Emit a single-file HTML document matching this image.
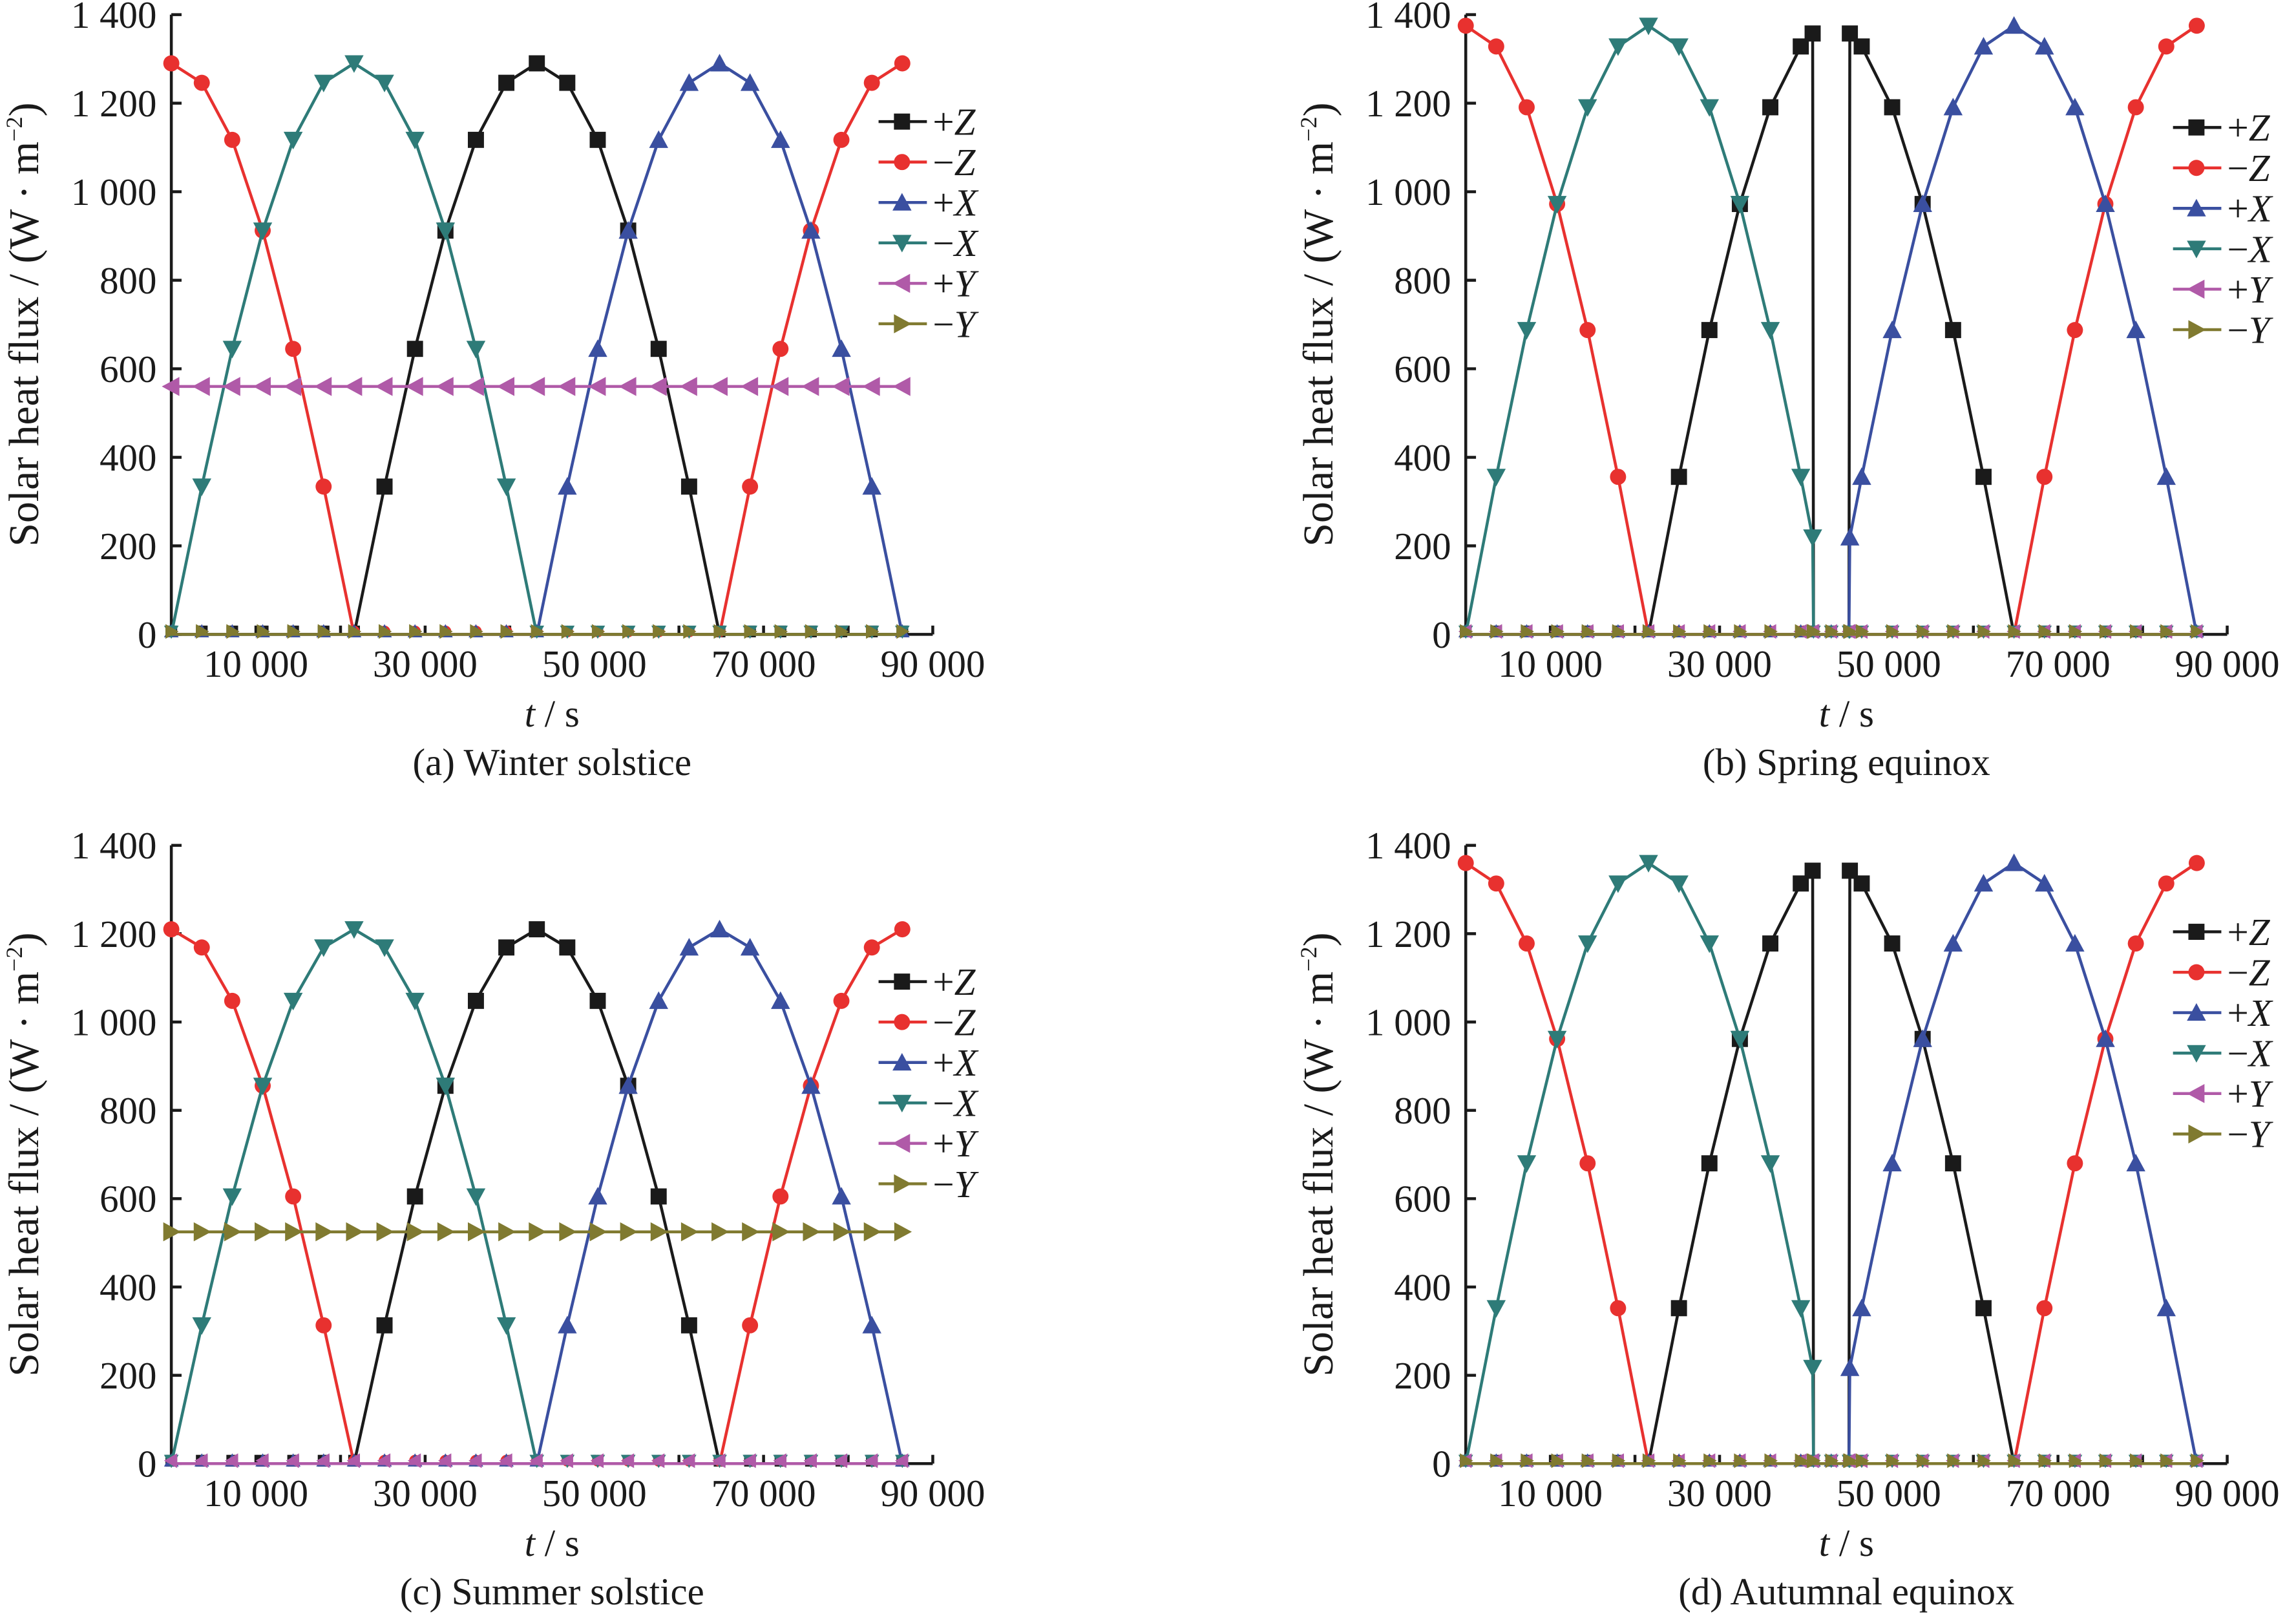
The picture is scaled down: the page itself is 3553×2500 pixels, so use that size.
<!DOCTYPE html>
<html><head><meta charset="utf-8"><style>
html,body{margin:0;padding:0;background:#fff}
svg{display:block}
text{font-family:"Liberation Serif",serif;fill:#1a1a1a}
</style></head><body>
<svg id="s" xmlns="http://www.w3.org/2000/svg" width="3553" height="2500" viewBox="0 0 1568 1103" preserveAspectRatio="none"></svg>
<script>
const S=document.getElementById('s');let h='';
const C={pz:'#1a1a1a',mz:'#e8312f',px:'#3a4fa0',mx:'#2e7b78',py:'#b05aa8',my:'#807a30'};
function mk(type,x,y,c,r){r=r||5.5;
 if(type=='pz')return `<rect x="${x-r}" y="${y-r}" width="${2*r}" height="${2*r}" fill="${c}"/>`;
 if(type=='mz')return `<circle cx="${x}" cy="${y}" r="${r}" fill="${c}"/>`;
 if(type=='px')return `<polygon points="${x},${y-r-1} ${x-r-1},${y+r} ${x+r+1},${y+r}" fill="${c}"/>`;
 if(type=='mx')return `<polygon points="${x},${y+r+1} ${x-r-1},${y-r} ${x+r+1},${y-r}" fill="${c}"/>`;
 if(type=='py')return `<polygon points="${x-r-1},${y} ${x+r},${y-r-1} ${x+r},${y+r+1}" fill="${c}"/>`;
 return `<polygon points="${x+r+1},${y} ${x-r},${y-r-1} ${x-r},${y+r+1}" fill="${c}"/>`;}
function panel(ox,oy,top,A,py,my,ecl,legY,cap){
 const right=ox+520, sx=t=>ox+t*0.005778, sy=v=>oy-(oy-top)*v/1400;
 h+=`<line x1="${ox}" y1="${top}" x2="${ox}" y2="${oy}" stroke="#1a1a1a" stroke-width="2"/>`;
 h+=`<line x1="${ox}" y1="${oy}" x2="${right}" y2="${oy}" stroke="#1a1a1a" stroke-width="2"/>`;
 for(let v=0;v<=1400;v+=200){const y=sy(v);h+=`<line x1="${ox}" y1="${y}" x2="${ox+7}" y2="${y}" stroke="#1a1a1a" stroke-width="2"/>`;
  h+=`<text x="${ox-10}" y="${y+9}" font-size="26" text-anchor="end">${v>=1000?'1 '+String(v%1000).padStart(3,'0'):v}</text>`;}
 for(let t=10000;t<=90000;t+=10000){const x=sx(t);h+=`<line x1="${x}" y1="${oy}" x2="${x}" y2="${oy-6}" stroke="#1a1a1a" stroke-width="2"/>`;
  if(t%20000==10000)h+=`<text x="${x}" y="${oy+29}" font-size="26" text-anchor="middle">${t/1000} 000</text>`;}
 h+=`<text x="${ox+260}" y="${oy+63}" font-size="26" text-anchor="middle"><tspan font-style="italic">t</tspan> / s</text>`;
 h+=`<text x="${ox+260}" y="${oy+96}" font-size="26" text-anchor="middle">${cap}</text>`;
 const cy=(top+oy)/2;
 h+=`<text transform="translate(${ox-91},${cy}) rotate(-90)" font-size="29" text-anchor="middle">Solar heat flux / (W · m<tspan font-size="16" dy="-11">−2</tspan><tspan dy="11">)</tspan></text>`;
 let ts=[];for(let t=0;t<=86400;t+=3600)ts.push(t);
 if(ecl){ts.push(41000,41100,45300,45400);ts.sort((a,b)=>a-b);}
 const f={pz:t=>A*Math.max(0,Math.cos(2*Math.PI*(t-43200)/86400)),
  mz:t=>A*Math.max(0,-Math.cos(2*Math.PI*(t-43200)/86400)),
  px:t=>A*Math.max(0,Math.cos(2*Math.PI*(t-64800)/86400)),
  mx:t=>A*Math.max(0,Math.cos(2*Math.PI*(t-21600)/86400)),
  py:t=>py,my:t=>my};
 for(const k of ['pz','mz','px','mx','py','my']){
  const pts=ts.map(t=>{let v=f[k](t);if(ecl&&t>41000&&t<45400)v=0;return [sx(t),sy(v),v];});
  h+=`<polyline points="${pts.map(p=>p[0].toFixed(1)+','+p[1].toFixed(1)).join(' ')}" fill="none" stroke="${C[k]}" stroke-width="2"/>`;
  pts.forEach(p=>h+=mk(k,p[0],p[2]<1?p[1]-2:p[1],C[k],p[2]<1?4:5.5));}
 const lx=ox+483, labs={pz:'+',mz:'−',px:'+',mx:'−',py:'+',my:'−'}, let_={pz:'Z',mz:'Z',px:'X',mx:'X',py:'Y',my:'Y'};
 ['pz','mz','px','mx','py','my'].forEach((k,i)=>{const y=legY+i*27.6;
  h+=`<line x1="${lx}" y1="${y}" x2="${lx+33}" y2="${y}" stroke="${C[k]}" stroke-width="2"/>`+mk(k,lx+16,y,C[k]);
  h+=`<text x="${lx+37}" y="${y+9}" font-size="26">${labs[k]}<tspan font-style="italic">${let_[k]}</tspan></text>`;});
}
panel(117,433,10,1290,560,0,false,83,'(a) Winter solstice');
panel(1001,433,10,1375,0,0,true,87,'(b) Spring equinox');
panel(117,999,577,1210,0,525,false,670,'(c) Summer solstice');
panel(1001,999,577,1360,0,0,true,636,'(d) Autumnal equinox');
S.innerHTML=h;
</script>
</body></html>
